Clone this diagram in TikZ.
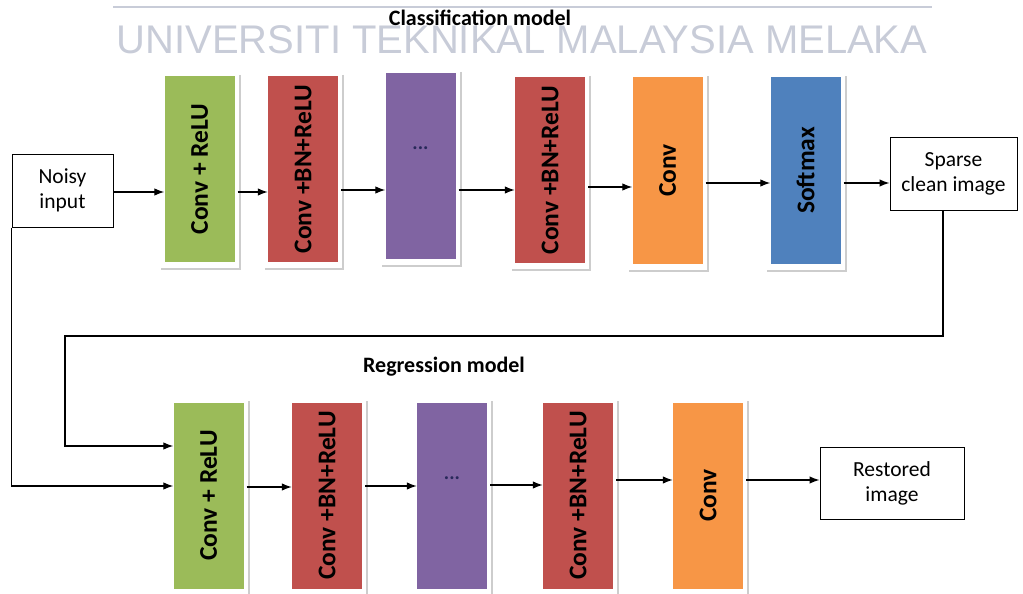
\documentclass[tikz,border=0pt]{standalone}
\usepackage{fontspec}
\setmainfont{Carlito}
\newfontfamily\wmfont{Liberation Sans}
\usetikzlibrary{arrows.meta}
\definecolor{cgreen}{RGB}{155,187,89}
\definecolor{cred}{RGB}{192,80,77}
\definecolor{cpurple}{RGB}{128,100,162}
\definecolor{corange}{RGB}{247,150,70}
\definecolor{cblue}{RGB}{79,129,189}
\definecolor{wmark}{RGB}{200,204,216}
\definecolor{shadowgray}{RGB}{205,205,205}
\definecolor{dotnavy}{RGB}{40,40,90}
\begin{document}
\begin{tikzpicture}[x=1pt,y=-1pt,
  blk/.style={fill=#1, inner sep=0pt, minimum width=70pt, minimum height=186pt},
  vtext/.style={rotate=90, inner sep=0pt, font=\fontsize{25.5}{30}\selectfont\bfseries},
  iobox/.style={draw=black, line width=1pt, fill=white, inner sep=0pt, align=center,
    font=\fontsize{21.5}{25}\selectfont},
  title/.style={inner sep=0pt, font=\fontsize{22}{26}\selectfont\bfseries},
  dots/.style={inner sep=0pt, text=dotnavy, font=\fontsize{20}{24}\selectfont\bfseries},
  shadowline/.style={draw=shadowgray, line width=2pt},
  arr/.style={line width=1.3pt, -{Latex[length=10pt,width=7.5pt]}},
  wire/.style={line width=1.3pt}]
\useasboundingbox (0,0) rectangle (1023,594);

% institutional header
\draw[wmark, line width=2.5pt] (113,7) -- (932,7);
\node[anchor=base, inner sep=0pt, text=wmark, font=\fontsize{40}{44}\wmfont] (wm) at (522,54)
  {UNIVERSITI TEKNIKAL MALAYSIA MELAKA};

% section titles
\node[title] (ctitle) at (480,18) {Classification model};
\node[title] (rtitle) at (444,367) {Regression model};

% classification branch
\node[iobox, minimum width=101pt, minimum height=73pt] (noisy) at (62.5,190.5) {Noisy\\input};
\node[blk=cgreen]  (g1) at (199.5,169) {};
\node[blk=cred]    (r1) at (303,169) {};
\node[blk=cpurple] (p1) at (420.5,166) {};
\node[blk=cred]    (r2) at (550,170) {};
\node[blk=corange] (o1) at (667.5,170.5) {};
\node[blk=cblue]   (b1) at (805.5,170.5) {};
\node[iobox, minimum width=127pt, minimum height=73pt] (sparse) at (953.5,173.5) {Sparse\\clean image};

\node[vtext] (g1t) at (g1.center) {Conv + ReLU};
\node[vtext] (r1t) at (r1.center) {Conv +BN+ReLU};
\node[dots]  (p1t) at (420.5,148) {...};
\node[vtext] (r2t) at (r2.center) {Conv +BN+ReLU};
\node[vtext] (o1t) at (o1.center) {Conv};
\node[vtext] (b1t) at (b1.center) {Softmax};

% regression branch
\node[blk=cgreen]  (g2) at (208.5,495.5) {};
\node[blk=cred]    (r3) at (327,495.5) {};
\node[blk=cpurple] (p2) at (452,495.5) {};
\node[blk=cred]    (r4) at (578,495.5) {};
\node[blk=corange] (o2) at (708,495.5) {};
\node[iobox, minimum width=144pt, minimum height=72pt] (restored) at (892,483) {Restored\\image};

\node[vtext] (g2t) at (g2.center) {Conv + ReLU};
\node[vtext] (r3t) at (r3.center) {Conv +BN+ReLU};
\node[dots]  (p2t) at (452,478) {...};
\node[vtext] (r4t) at (r4.center) {Conv +BN+ReLU};
\node[vtext] (o2t) at (o2.center) {Conv};

% soft shadows along the right and bottom of each layer block
\foreach \n in {g1,r1,p1,r2,o1,b1,g2,r3,p2,r4,o2}
  \draw[shadowline] ([shift={(5pt,1pt)}]\n.north east) -- ([shift={(5pt,-7pt)}]\n.south east)
                    -- ([shift={(-3pt,-7pt)}]\n.south west);

% forward connections, classification model
\draw[arr] (noisy.east |- 0,192) -- (g1.west |- 0,192);
\draw[arr, shorten <=3pt] (g1.east |- 0,192) -- (r1.west |- 0,192);
\draw[arr, shorten <=3pt] (r1.east |- 0,190) -- (p1.west |- 0,190);
\draw[arr, shorten <=3pt] (p1.east |- 0,190) -- (r2.west |- 0,190);
\draw[arr, shorten <=3pt] (r2.east |- 0,187) -- (o1.west |- 0,187);
\draw[arr, shorten <=3pt] (o1.east |- 0,183) -- (b1.west |- 0,183);
\draw[arr, shorten <=3pt] (b1.east |- 0,183) -- (sparse.west |- 0,183);

% forward connections, regression model
\draw[arr, shorten <=3pt] (g2.east |- 0,487) -- (r3.west |- 0,487);
\draw[arr, shorten <=3pt] (r3.east |- 0,486) -- (p2.west |- 0,486);
\draw[arr, shorten <=3pt] (p2.east |- 0,485) -- (r4.west |- 0,485);
\draw[arr, shorten <=3pt] (r4.east |- 0,480) -- (o2.west |- 0,480);
\draw[arr, shorten <=3pt] (o2.east |- 0,480) -- (restored.west |- 0,480);

% the two inputs of the regression model
\coordinate (fb1) at (943,336);
\coordinate (fb2) at (65,336);
\draw[arr] (sparse.south -| fb1) -- (fb1) -- (fb2) -- (fb2 |- 0,446) -- (g2.west |- 0,446);
\draw[arr] (noisy.south west) -- (noisy.south west |- 0,486) -- (g2.west |- 0,486);
\end{tikzpicture}
\end{document}
